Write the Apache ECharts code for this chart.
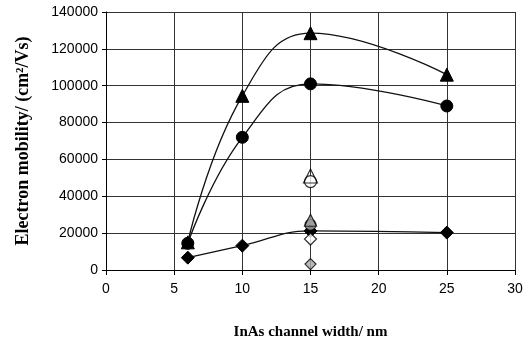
<!DOCTYPE html>
<html>
<head>
<meta charset="utf-8">
<script src="https://cdn.jsdelivr.net/npm/echarts@6/dist/echarts.min.js"></script>
<style>
  html, body { margin: 0; padding: 0; background: #fff; }
  #chart { width: 532px; height: 345px; }
</style>
</head>
<body>
<div id="chart"></div>
<script>
// channel width (nm)
var widths = [6, 10, 15, 25];
// filled markers, smoothed curves
var triangleVals = [15000, 94500, 128500, 106000];
var circleVals = [14500, 72000, 101000, 89000];
var diamondVals = [6700, 13200, 21200, 20300];

// single samples at 15 nm
var openTriVals = [51000];
var openCircleVals = [48000];
var greyTriVals = [27000];
var greyCircleVals = [24500];
var openDiamondVals = [16800];
var greyDiamondVals = [3200];

var yMax = 140000;

var pairs = function (xs, ys) {
    return ys.map(function (v, i) { return [xs[i], v]; });
};
var at15 = function (ys) {
    return ys.map(function (v) { return [15, v]; });
};

var chart = echarts.init(document.getElementById('chart'));

var lineSeries = function (vals, symbol, size) {
    return {
        type: 'line',
        data: pairs(widths, vals),
        smooth: 0.45,
        symbol: symbol,
        symbolSize: size,
        lineStyle: { color: '#111', width: 1.3 },
        itemStyle: { color: '#000', borderColor: '#000' },
        z: 3
    };
};

var pointSeries = function (vals, symbol, size, fill) {
    return {
        type: 'scatter',
        data: at15(vals),
        symbol: symbol,
        symbolSize: size,
        itemStyle: { color: fill, borderColor: '#000', borderWidth: 1.2 },
        z: 4
    };
};

var option = {
    animation: false,
    backgroundColor: '#fff',
    grid: { left: 106, right: 17, top: 12, bottom: 75 },
    xAxis: {
        type: 'value',
        min: 0,
        max: 30,
        interval: 5,
        name: 'InAs channel width/ nm',
        nameLocation: 'middle',
        nameGap: 55,
        nameTextStyle: { fontFamily: 'Liberation Serif', fontWeight: 'bold', fontSize: 15, color: '#000' },
        axisLine: { onZero: false, lineStyle: { color: '#000', width: 1 } },
        axisTick: { show: true, length: 5, lineStyle: { color: '#000' } },
        axisLabel: { fontFamily: 'Liberation Sans', fontSize: 14, color: '#000', margin: 12 },
        splitLine: { show: true, lineStyle: { color: '#333', width: 1 } }
    },
    yAxis: {
        type: 'value',
        min: 0,
        max: yMax,
        interval: 20000,
        name: 'Electron mobility/ (cm\u00b2/Vs)',
        nameLocation: 'middle',
        nameGap: 74,
        nameTextStyle: { fontFamily: 'Liberation Serif', fontWeight: 'bold', fontSize: 18, color: '#000' },
        axisLine: { show: true, lineStyle: { color: '#000', width: 1 } },
        axisTick: { show: true, length: 4, lineStyle: { color: '#000' } },
        axisLabel: {
            fontFamily: 'Liberation Sans', fontSize: 14, color: '#000', margin: 8,
            formatter: function (v) { return String(v); }
        },
        splitLine: { show: true, lineStyle: { color: '#333', width: 1 } }
    },
    series: [
        lineSeries(triangleVals, 'triangle', 13),
        lineSeries(circleVals, 'circle', 12),
        lineSeries(diamondVals, 'diamond', 13),
        pointSeries(openCircleVals, 'circle', 12, '#fff'),
        pointSeries(openTriVals, 'triangle', 14, 'rgba(255,255,255,0)'),
        pointSeries(greyCircleVals, 'circle', 11, '#aaa'),
        pointSeries(greyTriVals, 'triangle', 12, '#999'),
        pointSeries(openDiamondVals, 'diamond', 12, '#fff'),
        pointSeries(greyDiamondVals, 'diamond', 11, '#aaa')
    ]
};

chart.setOption(option);
</script>
</body>
</html>
